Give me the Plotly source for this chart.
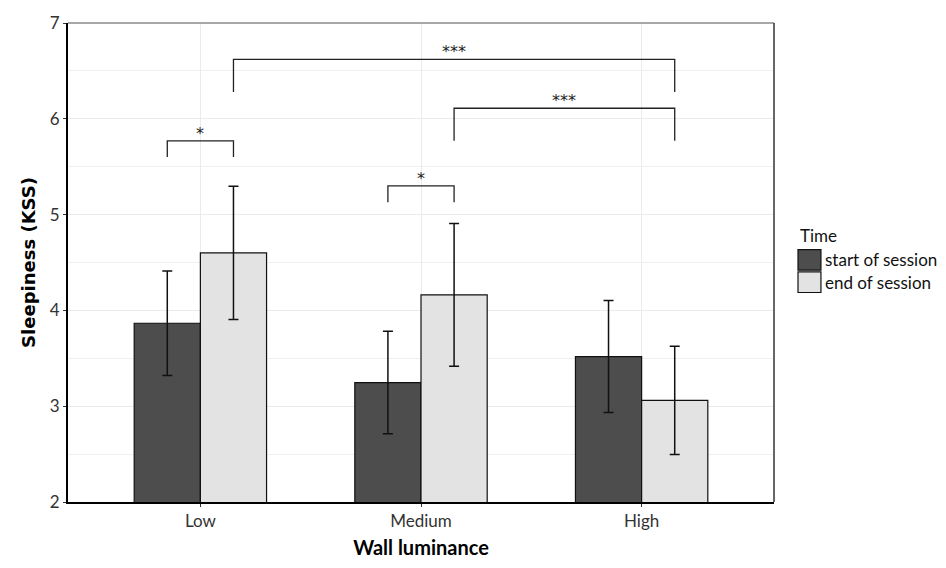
import plotly.graph_objects as go

# Sleepiness (KSS) by wall luminance, start vs end of session
categories = ["Low", "Medium", "High"]
start_mean = [3.866, 3.247, 3.518]
start_err = [0.545, 0.535, 0.585]
end_mean = [4.600, 4.163, 3.060]
end_err = [0.695, 0.745, 0.565]
series_names = ["start of session", "end of session"]
y_ticks = [2, 3, 4, 5, 6, 7]

# significance comparisons: (category index a, group a, category index b, group b, label)
comparisons = [
    (0, 0, 0, 1, "*"),
    (1, 0, 1, 1, "*"),
    (0, 1, 2, 1, "***"),
    (1, 1, 2, 1, "***"),
]
bracket_levels = [5.77, 5.30, 6.62, 6.11]
bracket_legs = [0.17, 0.17, 0.34, 0.34]

DARK = "#4d4d4d"
LIGHT = "#e3e3e3"
TICK_FONT = dict(family="Lato", size=17, color="#333333")

fig = go.Figure()
for name, means, errs, color in [
    (series_names[0], start_mean, start_err, DARK),
    (series_names[1], end_mean, end_err, LIGHT),
]:
    fig.add_trace(go.Bar(
        x=categories, y=means, name=name,
        marker=dict(color=color, line=dict(color="#111111", width=1.2)),
        error_y=dict(type="data", array=errs, visible=True,
                     color="#111111", thickness=1.5, width=5),
        showlegend=False,
    ))

half = 0.15  # half of each bar slot in category units
for (ia, ga, ib, gb, label), level, leg in zip(comparisons, bracket_levels, bracket_legs):
    xa = ia + (-half if ga == 0 else half)
    xb = ib + (-half if gb == 0 else half)
    fig.add_shape(type="path", xref="x", yref="y",
                  path=f"M {xa} {level - leg} L {xa} {level} L {xb} {level} L {xb} {level - leg}",
                  line=dict(color="#222222", width=1.3))
    fig.add_annotation(x=(xa + xb) / 2, y=level, xref="x", yref="y", text=label,
                       showarrow=False, yanchor="bottom", yshift=-4,
                       font=dict(family="DejaVu Sans", size=16, color="#222222"))

# panel border (top and right)
fig.add_shape(type="line", xref="paper", yref="paper", x0=0, x1=1, y0=1, y1=1,
              line=dict(color="#8a8a8a", width=1.5))
fig.add_shape(type="line", xref="paper", yref="paper", x0=1, x1=1, y0=0, y1=1,
              line=dict(color="#333333", width=1.5))

# legend drawn with larger swatches
fig.add_annotation(xref="paper", yref="paper", x=1.034, y=0.557, text="Time",
                   showarrow=False, xanchor="left", yanchor="middle",
                   font=dict(family="Lato", size=17, color="#111111"))
for i, (name, color) in enumerate(zip(series_names, [DARK, LIGHT])):
    top = 0.527 - i * 0.0466
    fig.add_shape(type="rect", xref="paper", yref="paper",
                  x0=1.034, x1=1.0665, y0=top - 0.043, y1=top,
                  fillcolor=color, line=dict(color="#111111", width=1.2))
    fig.add_annotation(xref="paper", yref="paper", x=1.070, y=top - 0.0215, text=name,
                       showarrow=False, xanchor="left", yanchor="middle",
                       font=dict(family="Lato", size=17, color="#111111"))

fig.update_layout(
    width=946, height=568,
    margin=dict(l=68, r=172, t=15, b=60),
    paper_bgcolor="white", plot_bgcolor="white",
    barmode="group", bargap=0.4, bargroupgap=0,
    xaxis=dict(
        range=[-0.6, 2.6], showgrid=True, gridcolor="#ebebeb", gridwidth=1,
        showline=True, linecolor="black", linewidth=2,
        ticks="outside", ticklen=3, tickcolor="#333333",
        tickfont=TICK_FONT,
        title=dict(text="<b>Wall luminance</b>", standoff=11,
                   font=dict(family="Lato", size=20, color="black")),
    ),
    yaxis=dict(
        range=[2, 7], tickvals=y_ticks, showgrid=True, gridcolor="#ebebeb", gridwidth=1,
        minor=dict(dtick=0.5, showgrid=True, gridcolor="#f0f0f0", gridwidth=1),
        showline=True, linecolor="black", linewidth=2, zeroline=False,
        ticks="outside", ticklen=3, tickcolor="#333333",
        tickfont=TICK_FONT,
        title=dict(text="<b>Sleepiness (KSS)</b>", standoff=9,
                   font=dict(family="DejaVu Sans", size=18, color="black")),
    ),
)

fig.write_html("out.html")
